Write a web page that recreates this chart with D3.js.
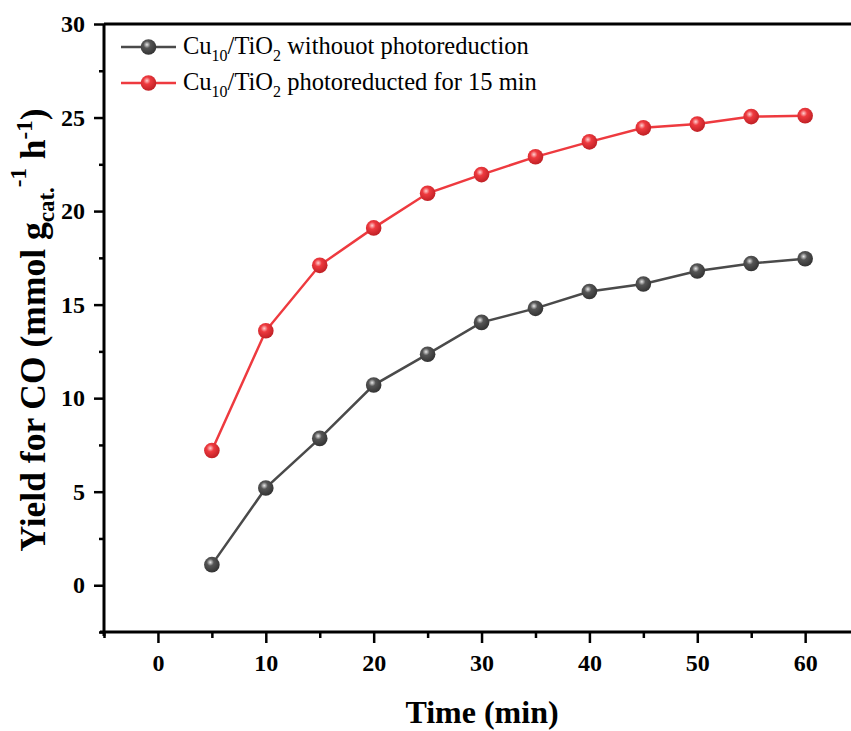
<!DOCTYPE html>
<html>
<head>
<meta charset="utf-8">
<script src="https://cdn.jsdelivr.net/npm/d3@7"></script>
<style>
  body { margin: 0; background: #fff; }
  svg text { font-family: "Liberation Serif", "Times New Roman", serif; }
</style>
</head>
<body>
<svg id="chart" width="851" height="731"></svg>
<script>
const times = [5, 10, 15, 20, 25, 30, 35, 40, 45, 50, 55, 60];
const yieldNoPhoto = [1.1, 5.2, 7.85, 10.7, 12.35, 14.05, 14.8, 15.7, 16.1, 16.8, 17.2, 17.45];
const yieldPhoto15 = [7.2, 13.6, 17.1, 19.1, 20.95, 21.95, 22.9, 23.7, 24.45, 24.65, 25.05, 25.1];
const xTicks = [0, 10, 20, 30, 40, 50, 60];
const yTicks = [0, 5, 10, 15, 20, 25, 30];

const series = [
  { name: "withouot photoreduction", values: yieldNoPhoto, color: "#4a4a4a", grad: "gGray" },
  { name: "photoreducted for 15 min", values: yieldPhoto15, color: "#ee3a3f", grad: "gRed" }
];

const svg = d3.select("#chart"),
  margin = { top: 24, right: 0, bottom: 99, left: 104 },
  width = +svg.attr("width") - margin.left - margin.right,
  height = +svg.attr("height") - margin.top - margin.bottom;

const x = d3.scaleLinear().domain([-5, 64.25]).range([0, width]);
const y = d3.scaleLinear().domain([-2.5, 30]).range([height, 0]);

// sphere-like marker gradients
const defs = svg.append("defs");
[["gGray", "#e8e8e8", "#555", "#333"], ["gRed", "#ffd0d0", "#ee3a3f", "#c02025"]].forEach(([id, c0, c1, c2]) => {
  const gr = defs.append("radialGradient").attr("id", id)
    .attr("cx", "40%").attr("cy", "35%").attr("r", "65%");
  gr.append("stop").attr("offset", "0%").attr("stop-color", c0);
  gr.append("stop").attr("offset", "35%").attr("stop-color", c1);
  gr.append("stop").attr("offset", "100%").attr("stop-color", c2);
});

const g = svg.append("g").attr("transform", `translate(${margin.left},${margin.top})`);

// axes
const xAxis = g.append("g").attr("transform", `translate(0,${height})`)
  .call(d3.axisBottom(x).tickValues(xTicks).tickSize(11).tickSizeOuter(0).tickPadding(11));
g.append("g").attr("transform", `translate(0,${height})`)
  .call(d3.axisBottom(x).tickValues([-5, 5, 15, 25, 35, 45, 55]).tickSize(6).tickFormat(""))
  .select(".domain").remove();
const yAxis = g.append("g")
  .call(d3.axisLeft(y).tickValues(yTicks).tickSize(10).tickSizeOuter(0).tickPadding(9));
g.append("g")
  .call(d3.axisLeft(y).tickValues([-2.5, 2.5, 7.5, 12.5, 17.5, 22.5, 27.5]).tickSize(5).tickFormat(""))
  .select(".domain").remove();
// top frame line
g.append("line").attr("x1", x(-5)).attr("x2", width).attr("y1", y(30)).attr("y2", y(30))
  .attr("stroke", "#000").attr("stroke-width", 3);

g.selectAll(".domain").attr("stroke-width", 3);
g.selectAll(".tick line").attr("stroke-width", 2.5);
g.selectAll(".tick text").attr("font-size", 24).attr("font-weight", "bold")
  .attr("font-family", "Liberation Serif, serif").attr("fill", "#000");
xAxis.selectAll(".domain").attr("d", `M${x(-5) - 4},0H${width}`);
yAxis.selectAll(".domain").attr("d", `M0,${height + 4}V${y(30)}`);

// lines and markers
const line = d3.line().x((d, i) => x(times[i])).y(d => y(d));
series.forEach(s => {
  g.append("path").datum(s.values).attr("d", line)
    .attr("fill", "none").attr("stroke", s.color).attr("stroke-width", 2.5);
  g.selectAll(null).data(s.values).enter().append("circle")
    .attr("cx", (d, i) => x(times[i])).attr("cy", d => y(d)).attr("r", 7.8)
    .attr("fill", `url(#${s.grad})`);
});

// legend
series.forEach((s, i) => {
  const ly = 47 + i * 36;
  const lg = svg.append("g");
  lg.append("line").attr("x1", 121).attr("x2", 176).attr("y1", ly).attr("y2", ly)
    .attr("stroke", s.color).attr("stroke-width", 2.5);
  lg.append("circle").attr("cx", 148.5).attr("cy", ly).attr("r", 7.8).attr("fill", `url(#${s.grad})`);
  const t = lg.append("text").attr("x", 183).attr("y", ly + 7).attr("font-size", 24.5);
  t.append("tspan").text("Cu");
  t.append("tspan").attr("font-size", 16).attr("dy", 7).text("10");
  t.append("tspan").attr("dy", -7).text("/TiO");
  t.append("tspan").attr("font-size", 16).attr("dy", 7).text("2");
  t.append("tspan").attr("dy", -7).text(" " + s.name);
});

// axis titles
svg.append("text").attr("x", 482).attr("y", 723).attr("text-anchor", "middle")
  .attr("font-size", 32).attr("font-weight", "bold").text("Time (min)");

const yt = svg.append("text").attr("transform", "translate(45,330) rotate(-90)")
  .attr("text-anchor", "middle").attr("font-size", 35.5).attr("font-weight", "bold");
yt.append("tspan").text("Yield for CO (mmol g");
yt.append("tspan").attr("font-size", 23).attr("dy", 9).text("cat.");
yt.append("tspan").attr("font-size", 23).attr("dy", -28).text("-1");
yt.append("tspan").attr("dy", 19).text(" h");
yt.append("tspan").attr("font-size", 23).attr("dy", -13).text("-1");
yt.append("tspan").attr("dy", 13).text(")");
</script>
</body>
</html>
